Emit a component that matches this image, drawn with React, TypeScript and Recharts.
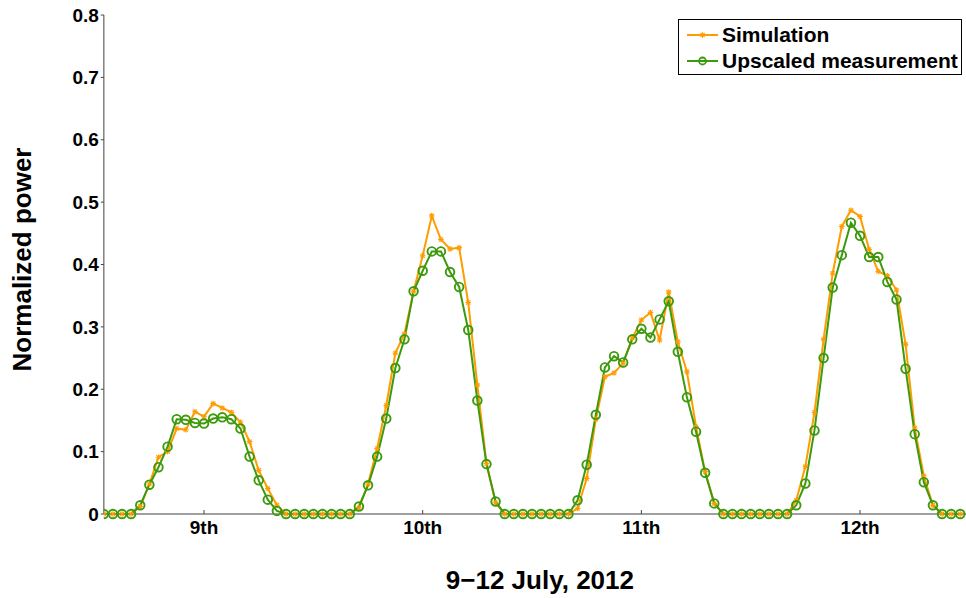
import React from 'react';
import { LineChart, Line, XAxis, YAxis, Legend, Label } from 'recharts';

// Hourly normalized power, 9-12 July 2012 (index 0 = first hour shown)
const simulation = [
  0, 0, 0, 0, 0.012, 0.048, 0.091, 0.100, 0.137, 0.135, 0.164, 0.156, 0.177, 0.170, 0.163, 0.147, 0.116, 0.070, 0.041, 0.014,
  0, 0, 0, 0, 0, 0, 0, 0, 0.010, 0.048, 0.105, 0.174, 0.258, 0.289, 0.357, 0.414, 0.478, 0.440, 0.425, 0.427,
  0.339, 0.207, 0.081, 0.018, 0, 0, 0, 0, 0, 0, 0, 0, 0.009, 0.057, 0.152, 0.220, 0.226, 0.242, 0.282, 0.311,
  0.323, 0.279, 0.356, 0.276, 0.228, 0.140, 0.068, 0.017, 0, 0, 0, 0, 0, 0, 0, 0, 0.022, 0.076, 0.163, 0.280,
  0.386, 0.461, 0.487, 0.477, 0.424, 0.389, 0.382, 0.359, 0.272, 0.138, 0.061, 0.014, 0, 0, 0,
];

const measurement = [
  0, 0, 0, 0, 0.014, 0.047, 0.075, 0.108, 0.152, 0.151, 0.146, 0.145, 0.153, 0.155, 0.152, 0.137, 0.092, 0.054, 0.023, 0.005,
  0, 0, 0, 0, 0, 0, 0, 0, 0.012, 0.046, 0.092, 0.153, 0.234, 0.280, 0.357, 0.390, 0.421, 0.421, 0.388, 0.364,
  0.295, 0.182, 0.080, 0.020, 0, 0, 0, 0, 0, 0, 0, 0, 0.022, 0.079, 0.159, 0.235, 0.253, 0.243, 0.280, 0.297,
  0.283, 0.312, 0.341, 0.260, 0.187, 0.132, 0.066, 0.017, 0, 0, 0, 0, 0, 0, 0, 0, 0.014, 0.049, 0.134, 0.250,
  0.363, 0.415, 0.467, 0.446, 0.412, 0.412, 0.372, 0.344, 0.233, 0.128, 0.051, 0.014, 0, 0, 0,
];

const dayTicks = [11, 35, 59, 83];
const dayLabels = ['9th', '10th', '11th', '12th'];
const yTicks = [0, 0.1, 0.2, 0.3, 0.4, 0.5, 0.6, 0.7, 0.8];
const seriesNames = ['Simulation', 'Upscaled measurement'];
const xTitle = '9\u221212 July, 2012';
const yTitle = 'Normalized power';

const data = simulation.map((s, i) => ({ hour: i, sim: s, meas: measurement[i] }));

const ORANGE = '#FF9C00';
const GREEN = '#3C9A0C';
const AXIS = '#808080';
const FONT = '"Liberation Sans", Arial, Helvetica, sans-serif';

const StarDot = (props: any) => {
  const { cx, cy, index } = props;
  if (cx == null || cy == null) return <g key={`s-${index}`} />;
  const r = 2.8;
  const d = r * 0.75;
  return (
    <g key={`s-${index}`} stroke={ORANGE} strokeWidth={1.1}>
      <line x1={cx - r} y1={cy} x2={cx + r} y2={cy} />
      <line x1={cx} y1={cy - r} x2={cx} y2={cy + r} />
      <line x1={cx - d} y1={cy - d} x2={cx + d} y2={cy + d} />
      <line x1={cx - d} y1={cy + d} x2={cx + d} y2={cy - d} />
    </g>
  );
};

const CircleDot = (props: any) => {
  const { cx, cy, index } = props;
  if (cx == null || cy == null) return <g key={`c-${index}`} />;
  return <circle key={`c-${index}`} cx={cx} cy={cy} r={4.3} fill="none" stroke={GREEN} strokeWidth={1.9} />;
};

const LegendBox = () => (
  <div
    style={{
      border: '1px solid #000',
      background: '#fff',
      width: 282,
      height: 54,
      boxSizing: 'content-box',
      fontFamily: FONT,
      fontWeight: 'bold',
      fontSize: 21,
      color: '#000',
    }}
  >
    {seriesNames.map((name, i) => (
      <div key={name} style={{ display: 'flex', alignItems: 'center', height: 26, marginTop: i === 0 ? 2 : 0 }}>
        <svg width={43} height={14} style={{ flex: 'none' }}>
          <line x1={8} y1={7} x2={39} y2={7} stroke={i === 0 ? ORANGE : GREEN} strokeWidth={2} />
          {i === 0 ? (
            <StarDot cx={23.5} cy={7} index={0} />
          ) : (
            <circle cx={23.5} cy={7} r={3.5} fill="none" stroke={GREEN} strokeWidth={1.8} />
          )}
        </svg>
        <span style={{ whiteSpace: 'nowrap' }}>{name}</span>
      </div>
    ))}
  </div>
);

const tickStyle = { fill: '#000', fontSize: 19, fontWeight: 'bold', fontFamily: FONT } as any;

export default function App() {
  return (
    <div style={{ position: 'absolute', left: 0, top: 0, background: '#fff' }}>
      <LineChart width={966} height={598} data={data} margin={{ top: 15, right: 0, bottom: 0, left: 0 }}>
        <XAxis
          dataKey="hour"
          type="number"
          domain={[0, 94.63]}
          allowDataOverflow
          ticks={dayTicks}
          interval={0}
          tickFormatter={(v: number) => dayLabels[dayTicks.indexOf(v)]}
          height={84}
          tickSize={-4}
          tickMargin={11}
          axisLine={{ stroke: AXIS, strokeWidth: 1.5 }}
          tickLine={{ stroke: '#444', strokeWidth: 1 }}
          tick={tickStyle}
        >
          <Label
            content={(p: any) => {
              const vb = p.viewBox || {};
              return (
                <text
                  x={vb.x + vb.width / 2 + 5}
                  y={vb.y + 75}
                  textAnchor="middle"
                  fontFamily={FONT}
                  fontWeight="bold"
                  fontSize={26}
                  fill="#000"
                >
                  {xTitle}
                </text>
              );
            }}
          />
        </XAxis>
        <YAxis
          type="number"
          domain={[0, 0.8]}
          ticks={yTicks}
          interval={0}
          width={103.8}
          tickSize={3}
          tickMargin={2}
          tickFormatter={(v: number) => (v === 0 ? '0' : String(v))}
          axisLine={{ stroke: AXIS, strokeWidth: 1.5 }}
          tickLine={{ stroke: '#444', strokeWidth: 1 }}
          tick={tickStyle}
        >
          <Label
            content={(p: any) => {
              const vb = p.viewBox || {};
              const cx = vb.x + 22;
              const cy = vb.y + vb.height / 2 - 5;
              return (
                <text
                  x={cx}
                  y={cy}
                  transform={`rotate(-90 ${cx} ${cy})`}
                  textAnchor="middle"
                  dominantBaseline="central"
                  fontFamily={FONT}
                  fontWeight="bold"
                  fontSize={26}
                  fill="#000"
                >
                  {yTitle}
                </text>
              );
            }}
          />
        </YAxis>
        <Legend
          layout="vertical"
          verticalAlign="middle"
          align="center"
          content={<LegendBox />}
          wrapperStyle={{ position: 'absolute', left: 678, top: 19, width: 'auto', height: 'auto' }}
        />
        <Line
          dataKey="sim"
          name={seriesNames[0]}
          stroke={ORANGE}
          strokeWidth={2}
          dot={StarDot}
          activeDot={false}
          isAnimationActive={false}
        />
        <Line
          dataKey="meas"
          name={seriesNames[1]}
          stroke={GREEN}
          strokeWidth={2}
          dot={CircleDot}
          activeDot={false}
          isAnimationActive={false}
        />
      </LineChart>
    </div>
  );
}
